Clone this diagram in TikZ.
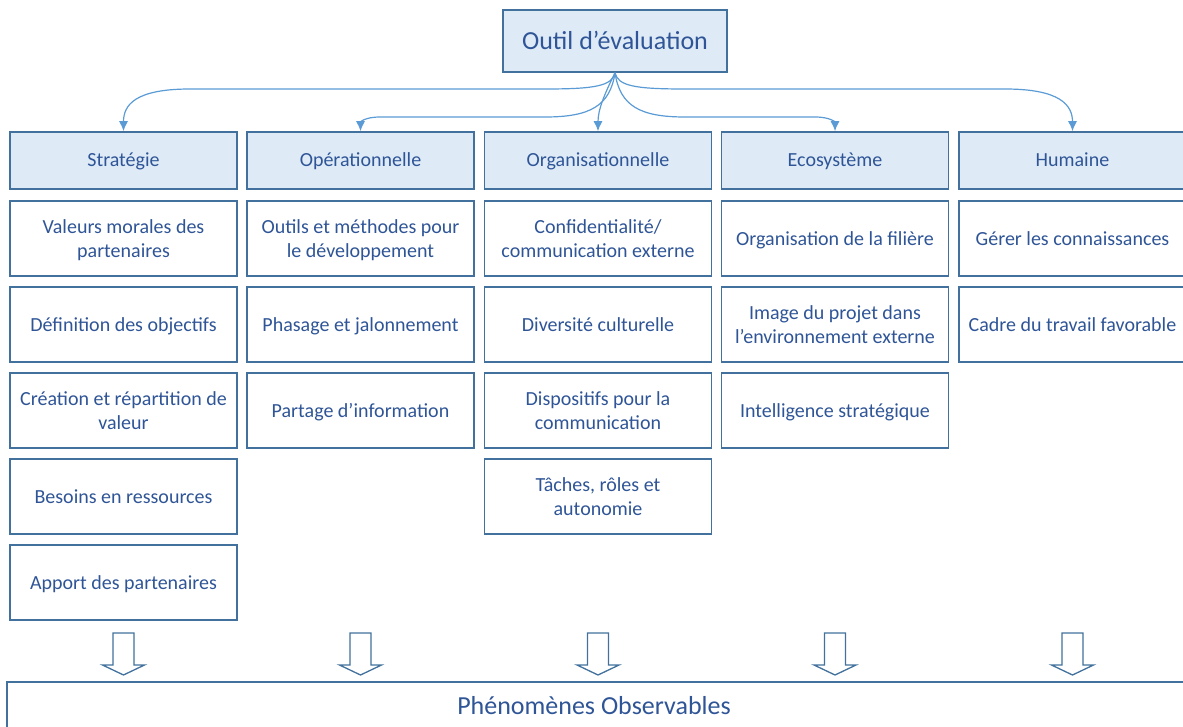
\documentclass[tikz,border=0pt]{standalone}
\usepackage{fontspec}
\setmainfont{Carlito}
\usetikzlibrary{arrows.meta}
\definecolor{rahmen}{HTML}{41719C}
\definecolor{hell}{HTML}{DEEBF7}
\definecolor{schrift}{HTML}{2F5597}
\definecolor{linie}{HTML}{5B9BD5}
\tikzset{
  kasten/.style={draw=rahmen, line width=1.6pt, fill=white, text=schrift, align=center,
    minimum width=227pt, minimum height=75pt, inner sep=2pt, text depth=0pt,
    font=\fontsize{20}{24}\selectfont},
  kopf/.style={kasten, fill=hell, minimum height=57pt, text height=13pt},
  pfeil/.style={draw=linie, line width=1.2pt, -{Latex[length=10pt,width=9pt]}},
  block/.style={draw=rahmen, line width=1.3pt, fill=white, line join=miter}
}
\begin{document}
\begin{tikzpicture}[x=1pt, y=-1pt]
  \useasboundingbox (0,0) rectangle (1183,727);
  \clip (0,0) rectangle (1183,727);
  % Titel
  \node [kopf, minimum width=224pt, minimum height=62pt, text height=17pt, font=\fontsize{26}{30}\selectfont] (titel) at (615,41) {Outil d’évaluation};
  % Kategorien
  \node [kopf] (strat) at (123.5,160.5) {Stratégie};
  \node [kopf] (oper)  at (360.5,160.5) {Opérationnelle};
  \node [kopf] (orga)  at (598,160.5)   {Organisationnelle};
  \node [kopf] (eco)   at (835,160.5)   {Ecosystème};
  \node [kopf] (hum)   at (1072.5,160.5) {Humaine};
  % Stratégie
  \node [kasten] (s1) at (123.5,238.5) {Valeurs morales des\\partenaires};
  \node [kasten] (s2) at (123.5,324.5) {Définition des objectifs};
  \node [kasten] (s3) at (123.5,410.5) {Création et répartition de\\valeur};
  \node [kasten] (s4) at (123.5,496.5) {Besoins en ressources};
  \node [kasten] (s5) at (123.5,582.5) {Apport des partenaires};
  % Opérationnelle
  \node [kasten] (o1) at (360.5,238.5) {Outils et méthodes pour\\le développement};
  \node [kasten] (o2) at (360.5,324.5) {Phasage et jalonnement};
  \node [kasten] (o3) at (360.5,410.5) {Partage d’information};
  % Organisationnelle
  \node [kasten] (g1) at (598,238.5) {Confidentialité/\\communication externe};
  \node [kasten] (g2) at (598,324.5) {Diversité culturelle};
  \node [kasten] (g3) at (598,410.5) {Dispositifs pour la\\communication};
  \node [kasten] (g4) at (598,496.5) {Tâches, rôles et\\autonomie};
  % Ecosystème
  \node [kasten] (e1) at (835,238.5) {Organisation de la filière};
  \node [kasten] (e2) at (835,324.5) {Image du projet dans\\l’environnement externe};
  \node [kasten] (e3) at (835,410.5) {Intelligence stratégique};
  % Humaine
  \node [kasten] (h1) at (1072.5,238.5) {Gérer les connaissances};
  \node [kasten] (h2) at (1072.5,324.5) {Cadre du travail favorable};
  % Verbindungen
  \draw [pfeil] (titel.south) .. controls (612,86) and (595,89) .. (545,89) -- (190,89) .. controls (135,89) and (123.5,105) .. (strat.north);
  \draw [pfeil] (titel.south) .. controls (610,106) and (590,117) .. (545,117) -- (380,117) .. controls (365,117) and (360.5,122) .. (oper.north);
  \draw [pfeil] (titel.south) .. controls (604,95) and (598,110) .. (orga.north);
  \draw [pfeil] (titel.south) .. controls (620,106) and (640,117) .. (685,117) -- (815,117) .. controls (830,117) and (835,122) .. (eco.north);
  \draw [pfeil] (titel.south) .. controls (618,86) and (635,89) .. (685,89) -- (1005,89) .. controls (1060,89) and (1072.5,105) .. (hum.north);
  % Blockpfeile
  \foreach \x in {123.5,360.5,598,835,1072.5}
    \draw [block] (\x-10.5,633) -- (\x+10.5,633) -- (\x+10.5,665) -- (\x+21,665) -- (\x,675)
      -- (\x-21,665) -- (\x-10.5,665) -- cycle;
  % Phänomene
  \node [kasten, minimum width=1190pt, minimum height=60pt, anchor=north west] (phen) at (6,681) {};
  \node [text=schrift, font=\fontsize{26}{30}\selectfont] (phentext) at (594,706) {Phénomènes Observables};
\end{tikzpicture}
\end{document}
